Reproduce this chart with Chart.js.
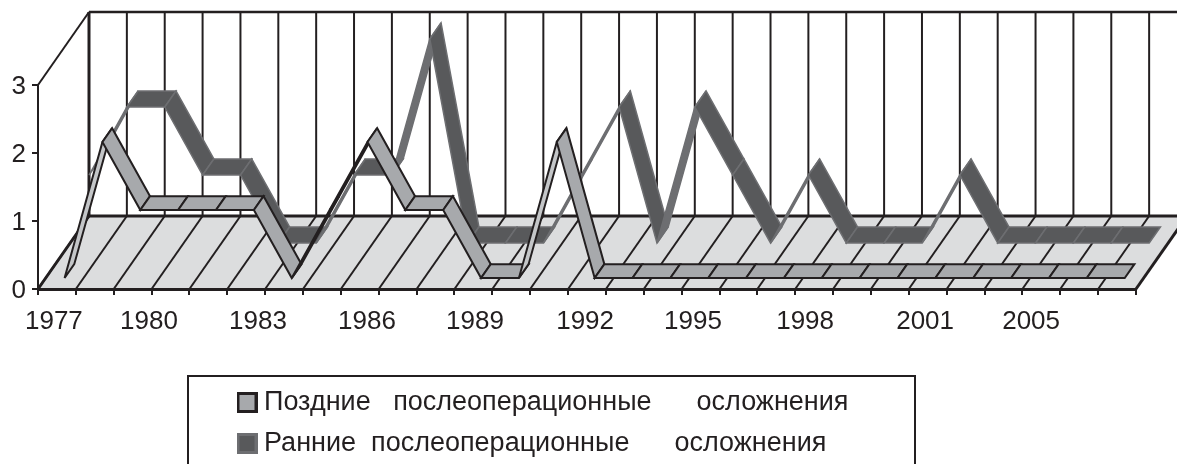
<!DOCTYPE html>
<html><head><meta charset="utf-8">
<style>html,body{margin:0;padding:0;background:#fff;overflow:hidden}canvas{display:block}</style>
<script src="https://cdn.jsdelivr.net/npm/chart.js@4"></script>
</head><body><canvas id="c" width="1177" height="464"></canvas>
<script>
const years = ['1977','1978','1979','1980','1981','1982','1983','1984','1985','1986','1987','1988','1989','1990','1991','1992','1993','1994','1995','1996','1997','1998','1999','2000','2001','2002','2003','2004','2005'];
const lateComplications = [0,2,1,1,1,1,0,1,2,1,1,0,0,2,0,0,0,0,0,0,0,0,0,0,0,0,0,0,0];
const earlyComplications = [1,2,2,1,1,0,0,1,1,3,0,0,0,1,2,0,2,1,0,1,0,0,0,1,0,0,0,0,0];
const tickLabels = ['1977','1980','1983','1986','1989','1992','1995','1998','2001','2005'];
const tickLabelAt = [0.42,2.93,5.81,8.69,11.54,14.45,17.3,20.26,23.43,26.23];
const seriesNames = ['Поздние   послеоперационные      осложнения','Ранние  послеоперационные      осложнения'];

const INK = '#231f20', FONT = '"Liberation Sans", Arial, sans-serif';
const DEPTH = {dx:51, dy:-73};
const BANDS = [[0.15,0.34],[0.63,0.85]];
const UPFILL = ['#c4c6c8','#6d6e71'];
const RIBBON_STROKE = [2,1.5];

function swatch(fill, stroke){
  const s=document.createElement('canvas'); s.width=21; s.height=21;
  const g=s.getContext('2d'); g.fillStyle=fill; g.fillRect(0,0,21,21);
  g.strokeStyle=stroke; g.lineWidth=3; g.strokeRect(1.5,1.5,18,18); return s;
}

const scene = {
  id:'scene',
  afterLayout(chart){
    const l=chart.legend;
    l.left=229.5; l.right=1000; l.top=375; l.bottom=700;
  },
  beforeDraw(chart){
    const {ctx,scales:{x,y}}=chart;
    const n=years.length, step=x.width/n, b=y.getPixelForValue(0), t=y.getPixelForValue(3);
    const {dx,dy}=DEPTH, L=x.left, R=x.right;
    ctx.save();
    ctx.fillStyle='#fff'; ctx.fillRect(0,0,chart.width,chart.height);
    ctx.fillStyle='#dcddde';
    ctx.beginPath(); ctx.moveTo(L,b); ctx.lineTo(L+dx,b+dy); ctx.lineTo(R+dx,b+dy); ctx.lineTo(R,b); ctx.closePath(); ctx.fill();
    ctx.strokeStyle=INK; ctx.lineWidth=2;
    const seg=(a,c,d,e,w)=>{ctx.lineWidth=w||2;ctx.beginPath();ctx.moveTo(a,c);ctx.lineTo(d,e);ctx.stroke();};
    for(let i=0;i<=n;i++){
      const fx=L+i*step;
      seg(fx+dx,t+dy,fx+dx,b+dy,i===0?3:2);
      seg(fx,b,fx+dx,b+dy,i===n?3:2);
    }
    seg(L,t,L+dx,t+dy,2);
    seg(L+dx,t+dy,R+dx,t+dy,2.5);
    seg(L+dx,b+dy,R+dx,b+dy,3);
    seg(L,b,L+dx,b+dy,3);
    ctx.restore();
  },
  afterDatasetsDraw(chart){
    const {ctx}=chart, {dx,dy}=DEPTH;
    ctx.save(); ctx.lineJoin='miter'; ctx.miterLimit=4;
    [1,0].forEach(k=>{
      const ds=chart.data.datasets[k], pts=chart.getDatasetMeta(k).data, [f,g]=BANDS[k];
      ctx.strokeStyle=ds.borderColor; ctx.lineWidth=RIBBON_STROKE[k];
      for(let i=0;i<pts.length-1;i++){
        const p=pts[i], q=pts[i+1], up=q.y<p.y;
        ctx.fillStyle=up?UPFILL[k]:ds.backgroundColor;
        ctx.beginPath();
        ctx.moveTo(p.x+dx*f,p.y+dy*f);
        ctx.lineTo(q.x+dx*f,q.y+dy*f);
        ctx.lineTo(q.x+dx*g,q.y+dy*g);
        ctx.lineTo(p.x+dx*g,p.y+dy*g);
        ctx.closePath(); ctx.fill(); ctx.stroke();
      }
    });
    ctx.restore();
  },
  afterDraw(chart){
    const {ctx}=chart;
    ctx.save(); ctx.strokeStyle=INK; ctx.lineWidth=2;
    ctx.strokeRect(188,376,727,120);
    ctx.restore();
  }
};

new Chart(document.getElementById('c'),{
  type:'line',
  data:{labels:years,datasets:[
    {label:seriesNames[0],data:lateComplications,backgroundColor:'#a7a9ac',borderColor:INK,showLine:false,pointRadius:0,pointStyle:swatch('#a7a9ac',INK)},
    {label:seriesNames[1],data:earlyComplications,backgroundColor:'#58595b',borderColor:'#6d6e71',showLine:false,pointRadius:0,pointStyle:swatch('#58595b','#6d6e71')}
  ]},
  options:{
    responsive:false,animation:false,
    layout:{padding:{left:0,top:85,right:41,bottom:109}},
    font:{family:FONT},
    scales:{
      x:{type:'category',offset:true,weight:0,
        grid:{offset:true,drawOnChartArea:false,tickLength:6,tickColor:INK,lineWidth:2},
        border:{color:INK,width:3},
        ticks:{display:false},
        afterFit(s){s.height=6;}},
      xl:{type:'linear',axis:'x',position:'bottom',weight:1,min:0,max:29,
        grid:{display:false},border:{display:false},
        afterBuildTicks(s){s.ticks=tickLabelAt.map(v=>({value:v}));},
        ticks:{autoSkip:false,maxRotation:0,padding:3,color:INK,font:{family:FONT,size:26},
          callback:(v,i)=>tickLabels[i]},
        afterFit(s){s.height=60;}},
      y:{min:0,max:3,
        grid:{drawOnChartArea:false,tickLength:6,tickColor:INK,lineWidth:2},
        border:{color:INK,width:2},
        ticks:{stepSize:1,padding:6,labelOffset:2,color:INK,font:{family:FONT,size:26}},
        afterFit(s){s.width=38;}}
    },
    plugins:{
      tooltip:{enabled:false},
      legend:{position:'chartArea',align:'start',
        labels:{usePointStyle:true,pointStyleWidth:7,boxHeight:20,padding:14,color:INK,font:{family:FONT,size:27}}}
    }
  },
  plugins:[scene]
});
</script></body></html>
